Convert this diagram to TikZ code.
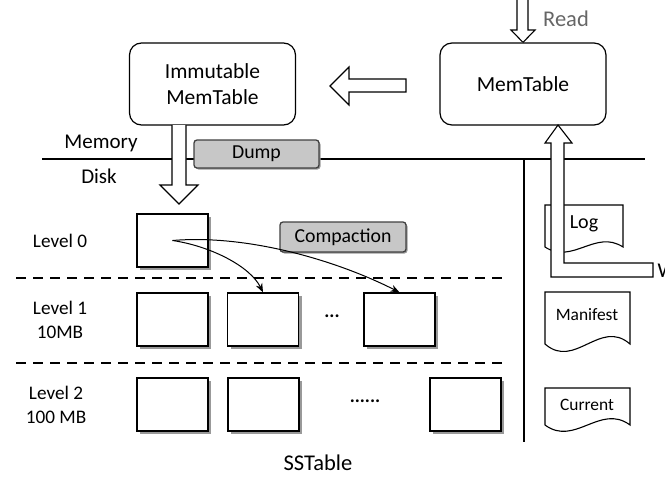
\documentclass[tikz,border=0pt]{standalone}
\usepackage{fontspec}
\setmainfont{Carlito}
\usetikzlibrary{shadows,calc,arrows.meta}
\newcommand\docshape[5]{% left, top, right, bottom, h
  \draw[doc] (#1,#2) -- (#3,#2) -- (#3,#4)
    .. controls ({#3-0.35*(#3-#1)},{#4-#5}) and ({#1+0.35*(#3-#1)},{#4+#5}) .. (#1,#4) -- cycle;}
\begin{document}
\begin{tikzpicture}[x=1pt,y=-1pt,
  rbox/.style={draw,line width=1.2pt,rounded corners=12pt,minimum width=166pt,minimum height=82pt,align=center,font=\fontsize{21.5}{26}\selectfont},
  sst/.style={draw,line width=1.3pt,fill=white,minimum width=71pt,minimum height=53pt,inner sep=0pt,
     drop shadow={shadow xshift=3pt,shadow yshift=-3pt,fill=black!40,opacity=1}},
  gbox/.style={draw=black!75,line width=1.3pt,fill=black!22,rounded corners=3pt,inner sep=0pt,font=\fontsize{19.8}{22}\selectfont,
     drop shadow={shadow xshift=1.5pt,shadow yshift=-1.5pt,fill=black!40,opacity=1}},
  lbl/.style={font=\fontsize{19.2}{24}\selectfont,align=center},
  dtxt/.style={font=\fontsize{17.4}{20}\selectfont},
  doc/.style={draw,line width=1.1pt,fill=white},
  hollow/.style={draw,fill=white,line width=1.1pt,line join=miter},
  sep/.style={line width=1.5pt,dash pattern=on 10pt off 7pt},
  carrow/.style={line width=1pt,-{Stealth[length=9pt,width=7pt]}},
]
\useasboundingbox (0,0) rectangle (665,477);

% boxes in memory
\node[rbox] (imm) at (212.5,84) {Immutable\\MemTable};
\node[rbox] (mem) at (523,84) {MemTable};

% memory / disk line
\draw[line width=2.5pt] (42,159) coordinate (ml) -- (645,159) coordinate (mr);
\draw[line width=2.5pt] (524,159) coordinate (vt) -- (524,442) coordinate (vb);
\node[lbl,font=\fontsize{21}{24}\selectfont] (memlbl) at (101,143) {Memory};
\node[lbl,font=\fontsize{21}{24}\selectfont] (disklbl) at (99,176) {Disk};

\node[gbox,minimum width=125pt,minimum height=28pt] (dump) at (256.5,154) {Dump};

% read arrow
\fill[white] (517,0) -- (517,30) -- (511,30) -- (522.5,43) -- (535,30) -- (528,30) -- (528,0) -- cycle;
\draw[hollow] (517,0) -- (517,30) -- (511,30) -- (mem.north) -- (535,30) -- (528,30) -- (528,0);
\node[font=\fontsize{22.5}{26}\selectfont,text=black!60] (read) at (566,19) {Read};

% immutable <- memtable arrow
\draw[hollow] (330,86) -- (349,67) -- (349,79) -- (406,79) -- (406,92) -- (349,92) -- (349,105) -- cycle;

% dump arrow
\fill[white] (172,125) -- (172,185) -- (160,185) -- (179,204) -- (198,185) -- (186,185) -- (186,125) -- cycle;
\draw[hollow] (172,125) -- (172,185) -- (160,185) -- (179,204) -- (198,185) -- (186,185) -- (186,125);

% level separators
\draw[sep] (16,278) -- (505,278);
\draw[sep] (16,363) -- (505,363);

% level labels
\node[lbl] (lv0) at (60,241) {Level 0};
\node[lbl] (lv1) at (60,320) {Level 1\\10MB};
\node[lbl] (lv2) at (56,405) {Level 2\\100 MB};

% sstables
\node[sst] (l0) at (172.5,240.5) {};
\node[sst] (l1a) at (172.5,319.5) {};
\node[sst] (l1b) at (263,319.5) {};
\node[sst] (l1c) at (399.5,319.5) {};
\node[sst] (l2a) at (172.5,404.5) {};
\node[sst] (l2b) at (263.5,404.5) {};
\node[sst] (l2c) at (465.5,404.5) {};

\node[font=\bfseries\fontsize{19}{20}\selectfont] (dots1) at (332,316) {...};
\node[font=\bfseries\fontsize{19}{20}\selectfont] (dots2) at (365,401) {......};

\node[gbox,minimum width=126pt,minimum height=30pt] (comp) at (343,237) {Compaction};

\draw[carrow] (l0.center) .. controls (210,246) and (250,266) .. (l1b.north);
\draw[carrow] (l0.center) .. controls (250,234) and (340,262) .. (l1c.north);

\node[font=\fontsize{22.5}{26}\selectfont] (sstlbl) at (318,463) {SSTable};

% files
\docshape{545}{205}{623}{247}{18}
\node[dtxt,font=\fontsize{20}{22}\selectfont] (log) at (584,224) {Log};
\docshape{545}{292}{630}{344}{26}
\node[dtxt] (manifest) at (587,315) {Manifest};
\docshape{545}{388}{630}{425}{22}
\node[dtxt] (current) at (587,405) {Current};

% write arrow
\draw[hollow] (558,125) -- (572,143) -- (564,143) -- (564,263) -- (653,263) -- (653,277) -- (551,277) -- (551,143) -- (545,143) -- cycle;
\begin{scope}
\clip (0,0) rectangle (665,477);
\node[font=\fontsize{21}{24}\selectfont,anchor=west] (write) at (654,270) {Write};
\end{scope}
\end{tikzpicture}
\end{document}
